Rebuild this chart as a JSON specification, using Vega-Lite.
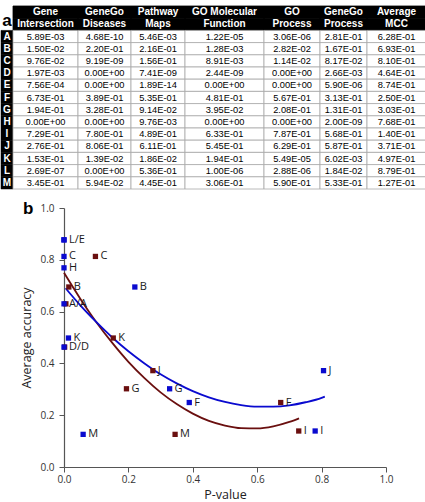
{
  "$schema": "https://vega.github.io/schema/vega-lite/v6.json",
  "padding": 0,
  "config": {
    "view": {"stroke": null},
    "font": "Liberation Sans",
    "text": {"font": "Liberation Sans"}
  },
  "datasets": {
    "panel": [{"panel": "b"}],
    "table": [
      {"row": "h1", "part": "header", "lab": "", "gene_intersection": "Gene", "genego_diseases": "GeneGo", "pathway_maps": "Pathway", "go_molecular_function": "GO Molecular", "go_process": "GO", "genego_process": "GeneGo", "average_mcc": "Average"},
      {"row": "h2", "part": "header", "lab": "a", "gene_intersection": "Intersection", "genego_diseases": "Diseases", "pathway_maps": "Maps", "go_molecular_function": "Function", "go_process": "Process", "genego_process": "Process", "average_mcc": "MCC"},
      {"row": "A", "part": "body", "lab": "A", "gene_intersection": "5.89E-03", "genego_diseases": "4.68E-10", "pathway_maps": "5.46E-03", "go_molecular_function": "1.22E-05", "go_process": "3.06E-06", "genego_process": "2.81E-01", "average_mcc": "6.28E-01"},
      {"row": "B", "part": "body", "lab": "B", "gene_intersection": "1.50E-02", "genego_diseases": "2.20E-01", "pathway_maps": "2.16E-01", "go_molecular_function": "1.28E-03", "go_process": "2.82E-02", "genego_process": "1.67E-01", "average_mcc": "6.93E-01"},
      {"row": "C", "part": "body", "lab": "C", "gene_intersection": "9.76E-02", "genego_diseases": "9.19E-09", "pathway_maps": "1.56E-01", "go_molecular_function": "8.91E-03", "go_process": "1.14E-02", "genego_process": "8.17E-02", "average_mcc": "8.10E-01"},
      {"row": "D", "part": "body", "lab": "D", "gene_intersection": "1.97E-03", "genego_diseases": "0.00E+00", "pathway_maps": "7.41E-09", "go_molecular_function": "2.44E-09", "go_process": "0.00E+00", "genego_process": "2.66E-03", "average_mcc": "4.64E-01"},
      {"row": "E", "part": "body", "lab": "E", "gene_intersection": "7.56E-04", "genego_diseases": "0.00E+00", "pathway_maps": "1.89E-14", "go_molecular_function": "0.00E+00", "go_process": "0.00E+00", "genego_process": "5.90E-06", "average_mcc": "8.74E-01"},
      {"row": "F", "part": "body", "lab": "F", "gene_intersection": "6.73E-01", "genego_diseases": "3.89E-01", "pathway_maps": "5.35E-01", "go_molecular_function": "4.81E-01", "go_process": "5.67E-01", "genego_process": "3.13E-01", "average_mcc": "2.50E-01"},
      {"row": "G", "part": "body", "lab": "G", "gene_intersection": "1.94E-01", "genego_diseases": "3.28E-01", "pathway_maps": "9.14E-02", "go_molecular_function": "3.95E-02", "go_process": "2.08E-01", "genego_process": "1.31E-01", "average_mcc": "3.03E-01"},
      {"row": "H", "part": "body", "lab": "H", "gene_intersection": "0.00E+00", "genego_diseases": "0.00E+00", "pathway_maps": "9.76E-03", "go_molecular_function": "0.00E+00", "go_process": "0.00E+00", "genego_process": "2.00E-09", "average_mcc": "7.68E-01"},
      {"row": "I", "part": "body", "lab": "I", "gene_intersection": "7.29E-01", "genego_diseases": "7.80E-01", "pathway_maps": "4.89E-01", "go_molecular_function": "6.33E-01", "go_process": "7.87E-01", "genego_process": "5.68E-01", "average_mcc": "1.40E-01"},
      {"row": "J", "part": "body", "lab": "J", "gene_intersection": "2.76E-01", "genego_diseases": "8.06E-01", "pathway_maps": "6.11E-01", "go_molecular_function": "5.45E-01", "go_process": "6.29E-01", "genego_process": "5.87E-01", "average_mcc": "3.71E-01"},
      {"row": "K", "part": "body", "lab": "K", "gene_intersection": "1.53E-01", "genego_diseases": "1.39E-02", "pathway_maps": "1.86E-02", "go_molecular_function": "1.94E-01", "go_process": "5.49E-05", "genego_process": "6.02E-03", "average_mcc": "4.97E-01"},
      {"row": "L", "part": "body", "lab": "L", "gene_intersection": "2.69E-07", "genego_diseases": "0.00E+00", "pathway_maps": "5.36E-01", "go_molecular_function": "1.00E-06", "go_process": "2.88E-06", "genego_process": "1.84E-02", "average_mcc": "8.79E-01"},
      {"row": "M", "part": "body", "lab": "M", "gene_intersection": "3.45E-01", "genego_diseases": "5.94E-02", "pathway_maps": "4.45E-01", "go_molecular_function": "3.06E-01", "go_process": "5.90E-01", "genego_process": "5.33E-01", "average_mcc": "1.27E-01"}
    ],
    "points": [
      {"level": "signature level", "id": "A", "p": 0.00589, "acc": 0.630, "label": ""},
      {"level": "signature level", "id": "B", "p": 0.015, "acc": 0.695, "label": "B"},
      {"level": "signature level", "id": "C", "p": 0.0976, "acc": 0.813, "label": "C"},
      {"level": "signature level", "id": "D", "p": 0.00197, "acc": 0.463, "label": ""},
      {"level": "signature level", "id": "F", "p": 0.673, "acc": 0.249, "label": "F"},
      {"level": "signature level", "id": "G", "p": 0.194, "acc": 0.302, "label": "G"},
      {"level": "signature level", "id": "I", "p": 0.729, "acc": 0.139, "label": "I"},
      {"level": "signature level", "id": "J", "p": 0.276, "acc": 0.372, "label": "J"},
      {"level": "signature level", "id": "K", "p": 0.153, "acc": 0.498, "label": "K"},
      {"level": "signature level", "id": "M", "p": 0.345, "acc": 0.126, "label": "M"},
      {"level": "disease level", "id": "A", "p": 0.0, "acc": 0.630, "label": "A/A"},
      {"level": "disease level", "id": "B", "p": 0.220, "acc": 0.695, "label": "B"},
      {"level": "disease level", "id": "C", "p": 0.0, "acc": 0.813, "label": "C"},
      {"level": "disease level", "id": "D", "p": 0.0, "acc": 0.463, "label": "D/D"},
      {"level": "disease level", "id": "E", "p": 0.0, "acc": 0.877, "label": ""},
      {"level": "disease level", "id": "F", "p": 0.389, "acc": 0.249, "label": "F"},
      {"level": "disease level", "id": "G", "p": 0.328, "acc": 0.302, "label": "G"},
      {"level": "disease level", "id": "H", "p": 0.0, "acc": 0.769, "label": "H"},
      {"level": "disease level", "id": "I", "p": 0.780, "acc": 0.139, "label": "I"},
      {"level": "disease level", "id": "J", "p": 0.806, "acc": 0.372, "label": "J"},
      {"level": "disease level", "id": "K", "p": 0.0139, "acc": 0.498, "label": "K"},
      {"level": "disease level", "id": "L", "p": 0.0, "acc": 0.877, "label": "L/E"},
      {"level": "disease level", "id": "M", "p": 0.0594, "acc": 0.126, "label": "M"}
    ],
    "curves": [
      {"level": "signature level", "p": 0.0, "acc": 0.750},
      {"level": "signature level", "p": 0.05, "acc": 0.651},
      {"level": "signature level", "p": 0.1, "acc": 0.560},
      {"level": "signature level", "p": 0.15, "acc": 0.479},
      {"level": "signature level", "p": 0.2, "acc": 0.406},
      {"level": "signature level", "p": 0.25, "acc": 0.343},
      {"level": "signature level", "p": 0.3, "acc": 0.288},
      {"level": "signature level", "p": 0.35, "acc": 0.243},
      {"level": "signature level", "p": 0.4, "acc": 0.206},
      {"level": "signature level", "p": 0.45, "acc": 0.178},
      {"level": "signature level", "p": 0.5, "acc": 0.160},
      {"level": "signature level", "p": 0.55, "acc": 0.150},
      {"level": "signature level", "p": 0.6, "acc": 0.149},
      {"level": "signature level", "p": 0.65, "acc": 0.157},
      {"level": "signature level", "p": 0.7, "acc": 0.174},
      {"level": "signature level", "p": 0.73, "acc": 0.188},
      {"level": "disease level", "p": 0.005, "acc": 0.690},
      {"level": "disease level", "p": 0.05, "acc": 0.625},
      {"level": "disease level", "p": 0.1, "acc": 0.560},
      {"level": "disease level", "p": 0.15, "acc": 0.500},
      {"level": "disease level", "p": 0.2, "acc": 0.447},
      {"level": "disease level", "p": 0.25, "acc": 0.400},
      {"level": "disease level", "p": 0.3, "acc": 0.358},
      {"level": "disease level", "p": 0.35, "acc": 0.323},
      {"level": "disease level", "p": 0.4, "acc": 0.293},
      {"level": "disease level", "p": 0.45, "acc": 0.269},
      {"level": "disease level", "p": 0.5, "acc": 0.251},
      {"level": "disease level", "p": 0.55, "acc": 0.239},
      {"level": "disease level", "p": 0.6, "acc": 0.233},
      {"level": "disease level", "p": 0.65, "acc": 0.233},
      {"level": "disease level", "p": 0.7, "acc": 0.238},
      {"level": "disease level", "p": 0.75, "acc": 0.250},
      {"level": "disease level", "p": 0.8, "acc": 0.267},
      {"level": "disease level", "p": 0.81, "acc": 0.272}
    ]
  },
  "spacing": 9,
  "vconcat": [
    {
      "spacing": 0,
      "bounds": "flush",
      "data": {"name": "table"},
      "hconcat": [
        {"width": 12, "height": 183,
         "encoding": {"y": {"field": "row", "type": "nominal", "sort": null, "axis": null, "scale": {"domain": ["h1", "h2", "A", "B", "C", "D", "E", "F", "G", "H", "I", "J", "K", "L", "M"], "paddingInner": 0, "paddingOuter": 0}}},
         "layer": [
           {"transform": [{"filter": "datum.part === 'body'"}], "mark": {"type": "rect", "fill": "black", "stroke": "black", "strokeWidth": 0.5}},
           {"transform": [{"filter": "datum.part === 'body'"}], "mark": {"type": "text", "color": "white", "fontWeight": "bold", "fontSize": 10}, "encoding": {"text": {"field": "lab"}}},
           {"transform": [{"filter": "datum.part === 'header'"}], "mark": {"type": "text", "color": "black", "fontWeight": "bold", "fontSize": 17, "dy": -3}, "encoding": {"text": {"field": "lab"}}}
         ]},
        {"width": 65, "height": 183,
         "encoding": {"y": {"field": "row", "type": "nominal", "sort": null, "axis": null, "scale": {"domain": ["h1", "h2", "A", "B", "C", "D", "E", "F", "G", "H", "I", "J", "K", "L", "M"], "paddingInner": 0, "paddingOuter": 0}}},
         "layer": [
           {"mark": {"type": "rect", "strokeWidth": 0.8}, "encoding": {"fill": {"condition": {"test": "datum.part === 'header'", "value": "black"}, "value": "white"}, "stroke": {"condition": {"test": "datum.part === 'header'", "value": "black"}, "value": "#a8a8a8"}}},
           {"transform": [{"filter": "datum.part === 'header'"}], "mark": {"type": "text", "color": "white", "fontWeight": "bold", "fontSize": 10}, "encoding": {"text": {"field": "gene_intersection"}}},
           {"transform": [{"filter": "datum.part === 'body'"}], "mark": {"type": "text", "color": "black", "fontSize": 9.3}, "encoding": {"text": {"field": "gene_intersection"}}}
         ]},
        {"width": 53, "height": 183,
         "encoding": {"y": {"field": "row", "type": "nominal", "sort": null, "axis": null, "scale": {"domain": ["h1", "h2", "A", "B", "C", "D", "E", "F", "G", "H", "I", "J", "K", "L", "M"], "paddingInner": 0, "paddingOuter": 0}}},
         "layer": [
           {"mark": {"type": "rect", "strokeWidth": 0.8}, "encoding": {"fill": {"condition": {"test": "datum.part === 'header'", "value": "black"}, "value": "white"}, "stroke": {"condition": {"test": "datum.part === 'header'", "value": "black"}, "value": "#a8a8a8"}}},
           {"transform": [{"filter": "datum.part === 'header'"}], "mark": {"type": "text", "color": "white", "fontWeight": "bold", "fontSize": 10}, "encoding": {"text": {"field": "genego_diseases"}}},
           {"transform": [{"filter": "datum.part === 'body'"}], "mark": {"type": "text", "color": "black", "fontSize": 9.3}, "encoding": {"text": {"field": "genego_diseases"}}}
         ]},
        {"width": 54, "height": 183,
         "encoding": {"y": {"field": "row", "type": "nominal", "sort": null, "axis": null, "scale": {"domain": ["h1", "h2", "A", "B", "C", "D", "E", "F", "G", "H", "I", "J", "K", "L", "M"], "paddingInner": 0, "paddingOuter": 0}}},
         "layer": [
           {"mark": {"type": "rect", "strokeWidth": 0.8}, "encoding": {"fill": {"condition": {"test": "datum.part === 'header'", "value": "black"}, "value": "white"}, "stroke": {"condition": {"test": "datum.part === 'header'", "value": "black"}, "value": "#a8a8a8"}}},
           {"transform": [{"filter": "datum.part === 'header'"}], "mark": {"type": "text", "color": "white", "fontWeight": "bold", "fontSize": 10}, "encoding": {"text": {"field": "pathway_maps"}}},
           {"transform": [{"filter": "datum.part === 'body'"}], "mark": {"type": "text", "color": "black", "fontSize": 9.3}, "encoding": {"text": {"field": "pathway_maps"}}}
         ]},
        {"width": 79, "height": 183,
         "encoding": {"y": {"field": "row", "type": "nominal", "sort": null, "axis": null, "scale": {"domain": ["h1", "h2", "A", "B", "C", "D", "E", "F", "G", "H", "I", "J", "K", "L", "M"], "paddingInner": 0, "paddingOuter": 0}}},
         "layer": [
           {"mark": {"type": "rect", "strokeWidth": 0.8}, "encoding": {"fill": {"condition": {"test": "datum.part === 'header'", "value": "black"}, "value": "white"}, "stroke": {"condition": {"test": "datum.part === 'header'", "value": "black"}, "value": "#a8a8a8"}}},
           {"transform": [{"filter": "datum.part === 'header'"}], "mark": {"type": "text", "color": "white", "fontWeight": "bold", "fontSize": 10}, "encoding": {"text": {"field": "go_molecular_function"}}},
           {"transform": [{"filter": "datum.part === 'body'"}], "mark": {"type": "text", "color": "black", "fontSize": 9.3}, "encoding": {"text": {"field": "go_molecular_function"}}}
         ]},
        {"width": 56, "height": 183,
         "encoding": {"y": {"field": "row", "type": "nominal", "sort": null, "axis": null, "scale": {"domain": ["h1", "h2", "A", "B", "C", "D", "E", "F", "G", "H", "I", "J", "K", "L", "M"], "paddingInner": 0, "paddingOuter": 0}}},
         "layer": [
           {"mark": {"type": "rect", "strokeWidth": 0.8}, "encoding": {"fill": {"condition": {"test": "datum.part === 'header'", "value": "black"}, "value": "white"}, "stroke": {"condition": {"test": "datum.part === 'header'", "value": "black"}, "value": "#a8a8a8"}}},
           {"transform": [{"filter": "datum.part === 'header'"}], "mark": {"type": "text", "color": "white", "fontWeight": "bold", "fontSize": 10}, "encoding": {"text": {"field": "go_process"}}},
           {"transform": [{"filter": "datum.part === 'body'"}], "mark": {"type": "text", "color": "black", "fontSize": 9.3}, "encoding": {"text": {"field": "go_process"}}}
         ]},
        {"width": 47, "height": 183,
         "encoding": {"y": {"field": "row", "type": "nominal", "sort": null, "axis": null, "scale": {"domain": ["h1", "h2", "A", "B", "C", "D", "E", "F", "G", "H", "I", "J", "K", "L", "M"], "paddingInner": 0, "paddingOuter": 0}}},
         "layer": [
           {"mark": {"type": "rect", "strokeWidth": 0.8}, "encoding": {"fill": {"condition": {"test": "datum.part === 'header'", "value": "black"}, "value": "white"}, "stroke": {"condition": {"test": "datum.part === 'header'", "value": "black"}, "value": "#a8a8a8"}}},
           {"transform": [{"filter": "datum.part === 'header'"}], "mark": {"type": "text", "color": "white", "fontWeight": "bold", "fontSize": 10}, "encoding": {"text": {"field": "genego_process"}}},
           {"transform": [{"filter": "datum.part === 'body'"}], "mark": {"type": "text", "color": "black", "fontSize": 9.3}, "encoding": {"text": {"field": "genego_process"}}}
         ]},
        {"width": 59, "height": 183,
         "encoding": {"y": {"field": "row", "type": "nominal", "sort": null, "axis": null, "scale": {"domain": ["h1", "h2", "A", "B", "C", "D", "E", "F", "G", "H", "I", "J", "K", "L", "M"], "paddingInner": 0, "paddingOuter": 0}}},
         "layer": [
           {"mark": {"type": "rect", "strokeWidth": 0.8}, "encoding": {"fill": {"condition": {"test": "datum.part === 'header'", "value": "black"}, "value": "white"}, "stroke": {"condition": {"test": "datum.part === 'header'", "value": "black"}, "value": "#a8a8a8"}}},
           {"transform": [{"filter": "datum.part === 'header'"}], "mark": {"type": "text", "color": "white", "fontWeight": "bold", "fontSize": 10}, "encoding": {"text": {"field": "average_mcc"}}},
           {"transform": [{"filter": "datum.part === 'body'"}], "mark": {"type": "text", "color": "black", "fontSize": 9.3}, "encoding": {"text": {"field": "average_mcc"}}}
         ]}
      ]
    },
    {
      "spacing": 0,
      "bounds": "flush",
      "hconcat": [
        {
          "width": 63,
          "height": 1,
          "data": {"name": "panel"},
          "mark": {"type": "text", "align": "left", "baseline": "middle", "dx": -9.5, "fontSize": 17, "fontWeight": "bold", "font": "Liberation Sans", "color": "black"},
          "encoding": {"text": {"field": "panel"}}
        },
        {
          "width": 322,
          "height": 259,
          "layer": [
            {
              "data": {"name": "curves"},
              "mark": {"type": "line", "strokeWidth": 1.8, "interpolate": "monotone"},
              "encoding": {
                "x": {"field": "p", "type": "quantitative", "scale": {"domain": [0, 1]},
                  "axis": {"title": "P-value", "values": [0, 0.1, 0.2, 0.3, 0.4, 0.5, 0.6, 0.7, 0.8, 0.9, 1], "labelExpr": "round(datum.value*10)%2===0 ? format(datum.value,'.1f') : ''", "grid": false, "tickSize": 5, "domainColor": "#555", "tickColor": "#555", "domainWidth": 1.2, "tickWidth": 1, "labelColor": "#333", "labelFont": "Open Sans", "labelFontSize": 10, "labelPadding": 2, "labelFlush": false, "titleFont": "Open Sans", "titleFontSize": 12.5, "titleFontWeight": "normal", "titleColor": "#222", "titlePadding": 4}},
                "y": {"field": "acc", "type": "quantitative", "scale": {"domain": [0, 1]},
                  "axis": {"title": "Average accuracy", "values": [0, 0.1, 0.2, 0.3, 0.4, 0.5, 0.6, 0.7, 0.8, 0.9, 1], "labelExpr": "round(datum.value*10)%2===0 ? format(datum.value,'.1f') : ''", "grid": false, "tickSize": 5, "domainColor": "#555", "tickColor": "#555", "domainWidth": 1.2, "tickWidth": 1, "labelColor": "#333", "labelFont": "Open Sans", "labelFontSize": 10, "labelPadding": 5, "labelFlush": false, "titleFont": "Open Sans", "titleFontSize": 12.5, "titleFontWeight": "normal", "titleColor": "#222", "titlePadding": 6}},
                "stroke": {"field": "level", "type": "nominal", "scale": {"domain": ["signature level", "disease level"], "range": ["#6a0f0f", "#0a0acf"]}, "legend": null}
              }
            },
            {
              "data": {"name": "points"},
              "mark": {"type": "square", "size": 28, "opacity": 1, "filled": true},
              "encoding": {
                "x": {"field": "p", "type": "quantitative"},
                "y": {"field": "acc", "type": "quantitative"},
                "color": {"field": "level", "type": "nominal", "scale": {"domain": ["signature level", "disease level"], "range": ["#6a0f0f", "#0a0acf"]},
                  "legend": {"title": null, "orient": "none", "legendX": 213, "legendY": -2, "symbolType": "square", "symbolSize": 28, "symbolStrokeWidth": 0, "labelFont": "Open Sans", "labelFontSize": 11.5, "labelColor": "#222", "rowPadding": 5, "labelOffset": 6, "padding": 0}}
              }
            },
            {
              "data": {"name": "points"},
              "mark": {"type": "text", "align": "left", "baseline": "middle", "dx": 5, "font": "Open Sans", "fontSize": 11, "color": "#1a1a1a"},
              "encoding": {
                "x": {"field": "p", "type": "quantitative"},
                "y": {"field": "acc", "type": "quantitative"},
                "text": {"field": "label"}
              }
            }
          ]
        }
      ]
    }
  ]
}
